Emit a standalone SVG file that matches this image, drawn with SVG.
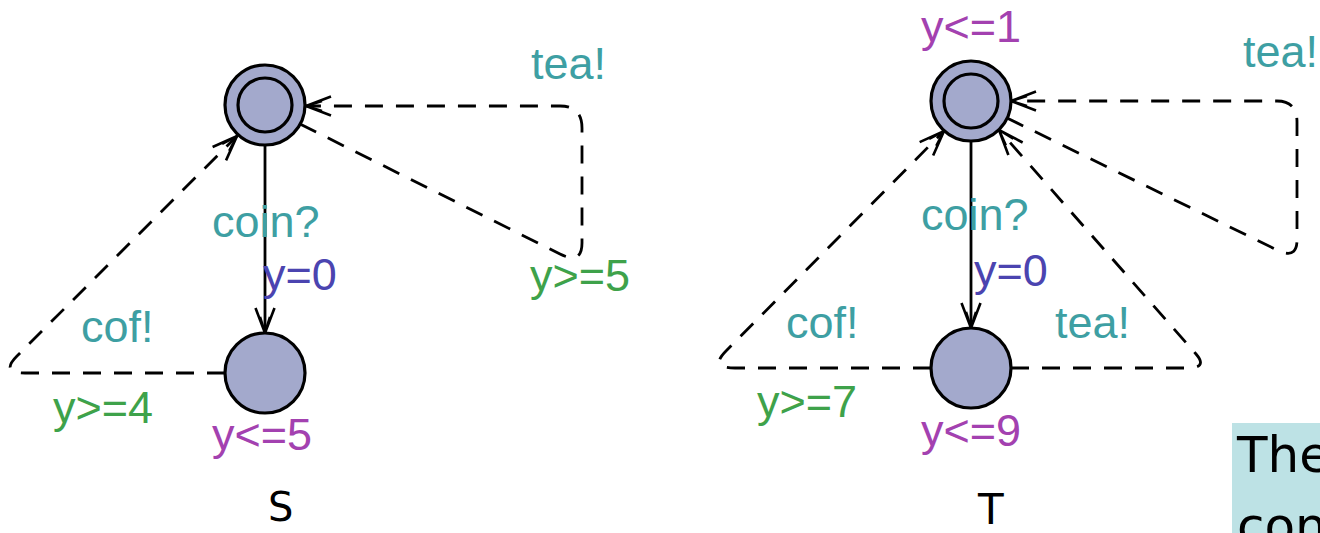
<svg xmlns="http://www.w3.org/2000/svg" width="1320" height="533" viewBox="0 0 1320 533">
  <style>
    .loc { fill: #a3a9cc; stroke: #000; stroke-width: 3.2; }
    .inner { fill: none; stroke: #000; stroke-width: 3.2; }
    .edge { fill: none; stroke: #000; stroke-width: 2.8; marker-end: url(#arrow); }
    .dash { stroke-dasharray: 18 13; }
    .lbl { font-family: "Liberation Sans", Arial, sans-serif; font-size: 45px; }
    .sync { fill: #3e9fa3; }
    .guard { fill: #3ea24a; }
    .inv { fill: #a341b0; }
    .upd { fill: #4b44b0; }
    .hand { font-family: "DejaVu Sans", "Liberation Sans", sans-serif; fill: #000; }
  </style>
  <defs>
    <marker id="arrow" markerUnits="userSpaceOnUse" markerWidth="30" markerHeight="24" viewBox="-2 -12 30 24" refX="25" refY="0" orient="auto">
      <path d="M0,-9.5 L25,0 L0,9.5 M9,-5 L25,0 L9,5" fill="none" stroke="#000" stroke-width="2.6" stroke-dasharray="none" stroke-linejoin="miter"/>
    </marker>
  </defs>
  <rect width="1320" height="533" fill="#fff"/>

  <!-- connectors -->
  <g id="edges">
    <!-- automaton S -->
    <path class="edge" d="M265,145 L265,333"/>
    <path class="edge dash" d="M300,124 L560,254 Q582,265 582,243 L582,128 Q582,106 560,106 L306,106"/>
    <path class="edge dash" d="M225,373 L25,373 Q0,373 17,356 L237,136"/>
    <!-- automaton T -->
    <path class="edge" d="M971,141 L971,328"/>
    <path class="edge dash" d="M1007,118 L1277,250 Q1297,260 1297,240 L1297,122 Q1297,101 1277,101 L1011,101"/>
    <path class="edge dash" d="M931,368 L735,368 Q709,368 726,351 L944,131"/>
    <path class="edge dash" d="M1011,368 L1188,368 Q1208,368 1196,354 L999,130"/>
  </g>

  <!-- automaton S -->
  <g id="S0">
    <circle class="loc" cx="265" cy="105" r="40"/>
    <circle class="inner" cx="265" cy="105" r="27"/>
  </g>
  <g id="S1">
    <circle class="loc" cx="265" cy="373" r="40"/>
    <text class="lbl inv" x="212" y="450">y&lt;=5</text>
  </g>
  <g id="S-labels">
    <text class="lbl sync" x="212" y="237">coin?</text>
    <text class="lbl upd" x="263" y="290">y=0</text>
    <text class="lbl sync" x="531" y="79">tea!</text>
    <text class="lbl guard" x="530" y="291">y&gt;=5</text>
    <text class="lbl sync" x="81" y="342">cof!</text>
    <text class="lbl guard" x="53" y="423">y&gt;=4</text>
    <text class="hand" x="268" y="521" font-size="40">S</text>
  </g>

  <!-- automaton T -->
  <g id="T0">
    <circle class="loc" cx="971" cy="101" r="40"/>
    <circle class="inner" cx="971" cy="101" r="27"/>
    <text class="lbl inv" x="921" y="42">y&lt;=1</text>
  </g>
  <g id="T1">
    <circle class="loc" cx="971" cy="368" r="40"/>
    <text class="lbl inv" x="921" y="446">y&lt;=9</text>
  </g>
  <g id="T-labels">
    <text class="lbl sync" x="921" y="230">coin?</text>
    <text class="lbl upd" x="974" y="286">y=0</text>
    <text class="lbl sync" x="1243" y="67">tea!</text>
    <text class="lbl sync" x="786" y="338">cof!</text>
    <text class="lbl sync" x="1055" y="338">tea!</text>
    <text class="lbl guard" x="757" y="417">y&gt;=7</text>
    <text class="hand" x="978" y="524" font-size="42">T</text>
  </g>

  <!-- note box at the lower right -->
  <g id="note">
    <rect x="1232" y="423" width="100" height="120" fill="#bde2e5"/>
    <text class="hand" x="1237" y="472" font-size="50">The</text>
    <text class="hand" x="1237" y="543" font-size="50">con</text>
  </g>
</svg>
